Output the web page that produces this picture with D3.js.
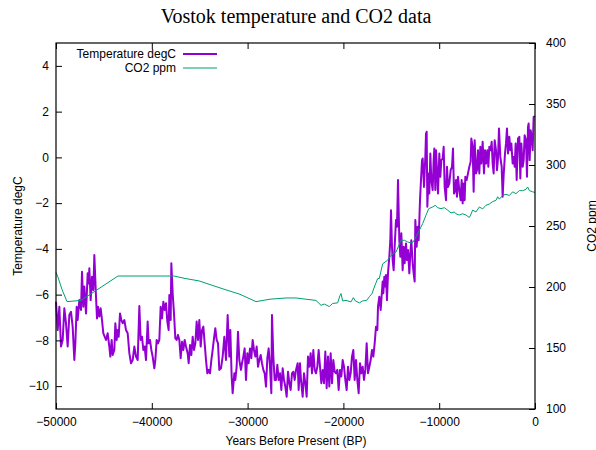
<!DOCTYPE html>
<html>
<head>
<meta charset="utf-8">
<script src="https://cdn.jsdelivr.net/npm/d3@7"></script>
<style>
  body { margin: 0; background: #fff; }
  svg { display: block; }
</style>
</head>
<body>
<svg id="chart"></svg>
<script>
const width = 596;
const height = 450;

// temperature record (years BP, degC)
const tempYears = [
  -50000, -49826, -49652, -49478, -49304, -49130, -48956, -48782, -48608, -48434,
  -48260, -48086, -47982, -47843, -47738, -47564, -47390, -47286, -47147, -47042,
  -46868, -46694, -46590, -46520, -46381, -46242, -46102, -45998, -45824, -45720,
  -45615, -45476, -45337, -45198, -45058, -44919, -44780, -44606, -44432, -44328,
  -44189, -44084, -43910, -43806, -43666, -43562, -43458, -43318, -43179, -43040,
  -42866, -42692, -42518, -42344, -42170, -41996, -41822, -41648, -41474, -41300,
  -41163, -41024, -40884, -40745, -40606, -40432, -40328, -40188, -40049, -39910,
  -39736, -39632, -39492, -39353, -39214, -39075, -38936, -38796, -38657, -38518,
  -38379, -38240, -38170, -38031, -37961, -37822, -37683, -37544, -37404, -37265,
  -37126, -36987, -36848, -36708, -36569, -36430, -36256, -36152, -36012, -35873,
  -35734, -35595, -35456, -35316, -35177, -35038, -34899, -34760, -34620, -34481,
  -34342, -34203, -34064, -33924, -33785, -33646, -33507, -33368, -33228, -33089,
  -32952, -32778, -32604, -32430, -32256, -32082, -31908, -31804, -31664, -31560,
  -31386, -31282, -31142, -31003, -30864, -30690, -30586, -30446, -30307, -30168,
  -30029, -29890, -29750, -29611, -29472, -29333, -29194, -29054, -28915, -28776,
  -28637, -28498, -28358, -28219, -28080, -27941, -27802, -27662, -27523, -27454,
  -27314, -27175, -27036, -26897, -26758, -26618, -26479, -26340, -26201, -26062,
  -25922, -25783, -25644, -25505, -25366, -25226, -25087, -24948, -24775, -24671,
  -24531, -24427, -24253, -24114, -23975, -23835, -23696, -23557, -23418, -23279,
  -23139, -23000, -22861, -22722, -22583, -22443, -22304, -22165, -22026, -21887,
  -21747, -21608, -21469, -21330, -21191, -21051, -20912, -20773, -20634, -20495,
  -20355, -20216, -20077, -19938, -19799, -19659, -19520, -19381, -19242, -19103,
  -18963, -18824, -18685, -18546, -18407, -18267, -18128, -17989, -17850, -17711,
  -17571, -17432, -17293, -17154, -17015, -16875, -16736, -16597, -16458, -16388,
  -16249, -16110, -15902, -15832, -15728, -15624, -15554, -15450, -15345, -15206,
  -15102, -15032, -14928, -14858, -14754, -14649, -14510, -14406, -14301, -14162,
  -14058, -13953, -13814, -13710, -13605, -13466, -13362, -13257, -13118, -13014,
  -12909, -12770, -12666, -12561, -12492, -12352, -12248, -12144, -12004, -11900,
  -11796, -11726, -11587, -11448, -11378, -11308, -11239, -11100, -11030, -10926,
  -10821, -10682, -10578, -10508, -10404, -10334, -10230, -10125, -9986, -9882,
  -9777, -9638, -9534, -9429, -9290, -9186, -9081, -8942, -8803, -8664,
  -8559, -8455, -8316, -8248, -8144, -8039, -7900, -7761, -7656, -7552,
  -7448, -7343, -7274, -7134, -6995, -6856, -6717, -6647, -6508, -6404,
  -6299, -6160, -6056, -5951, -5812, -5708, -5603, -5464, -5325, -5220,
  -5116, -4977, -4872, -4768, -4629, -4524, -4420, -4316, -4211, -4072,
  -3968, -3863, -3759, -3620, -3480, -3376, -3272, -3132, -3028, -2924,
  -2819, -2680, -2576, -2471, -2332, -2228, -2123, -2019, -1914, -1775,
  -1636, -1532, -1427, -1288, -1184, -1079, -940, -836, -731, -662,
  -557, -453, -348, -244, -140, 0
];
const tempValues = [
  -6.31, -7.55, -6.53, -8.27, -7.98, -6.60, -7.25, -8.27, -6.89, -6.75,
  -7.40, -8.86, -8.13, -6.53, -7.11, -6.24, -6.67, -5.00, -6.53, -5.65,
  -6.82, -5.07, -5.51, -4.85, -6.24, -5.22, -5.80, -4.27, -6.09, -7.04,
  -6.53, -6.96, -6.60, -7.11, -7.69, -7.84, -7.98, -7.69, -8.27, -8.71,
  -7.98, -8.64, -8.42, -7.25, -7.98, -7.55, -7.84, -6.82, -7.11, -7.25,
  -7.11, -7.55, -7.69, -8.56, -9.00, -8.86, -8.27, -8.71, -8.86, -6.50,
  -7.98, -7.84, -8.42, -8.27, -8.86, -7.18, -8.13, -7.98, -8.42, -8.71,
  -9.22, -8.86, -7.98, -8.13, -7.98, -6.53, -7.04, -6.31, -6.67, -6.38,
  -7.18, -7.55, -6.02, -7.11, -4.63, -5.94, -6.82, -7.91, -7.98, -7.76,
  -7.98, -8.78, -8.06, -8.42, -7.98, -8.27, -8.56, -9.00, -8.20, -8.64,
  -7.84, -8.42, -8.13, -7.18, -7.98, -7.11, -8.27, -7.55, -7.40, -8.13,
  -8.86, -9.44, -9.29, -9.44, -8.86, -8.42, -7.91, -7.47, -7.98, -8.13,
  -9.29, -9.22, -8.71, -7.84, -8.86, -6.89, -8.71, -7.55, -9.58, -10.31,
  -9.44, -9.73, -9.15, -7.62, -8.86, -9.29, -9.00, -8.71, -8.35, -9.73,
  -8.56, -9.00, -8.35, -8.78, -7.98, -8.42, -8.71, -8.27, -9.15, -8.86,
  -8.64, -9.00, -9.29, -9.44, -10.02, -8.78, -8.35, -9.15, -10.31, -6.89,
  -8.71, -9.73, -9.73, -9.07, -9.73, -9.44, -10.17, -9.22, -9.73, -10.02,
  -10.46, -9.37, -9.87, -10.17, -9.44, -9.37, -9.73, -9.29, -9.00, -10.17,
  -9.00, -9.73, -10.46, -9.44, -9.87, -10.46, -8.71, -9.15, -8.56, -9.44,
  -8.42, -9.29, -9.44, -9.15, -8.42, -9.15, -9.87, -9.29, -9.87, -8.49,
  -10.09, -8.71, -10.02, -8.56, -9.87, -8.86, -9.37, -9.44, -9.29, -10.17,
  -9.29, -9.58, -8.86, -9.15, -9.73, -10.17, -9.15, -9.73, -9.44, -8.71,
  -8.42, -9.73, -8.86, -9.73, -10.31, -9.00, -9.44, -9.15, -9.73, -9.29,
  -8.13, -9.44, -9.15, -8.86, -8.42, -8.71, -8.13, -7.40, -7.55, -6.53,
  -6.09, -6.67, -5.43, -5.94, -5.22, -5.65, -5.14, -6.24, -5.07, -4.34,
  -3.62, -2.31, -3.91, -4.49, -4.93, -3.91, -2.74, -3.03, -0.99, -3.62,
  -4.34, -3.32, -4.93, -3.91, -4.63, -3.76, -4.49, -4.05, -5.07, -4.20,
  -3.62, -4.63, -5.07, -5.43, -2.74, -3.91, -3.03, -3.62, -1.87, -0.99,
  -0.12, -0.05, -1.29, 0.02, 1.04, 1.12, -2.16, -0.70, -1.58, 0.17,
  -0.99, -1.43, -0.12, 0.39, -1.43, 0.31, -0.56, -1.58, 0.17, -0.85,
  -0.12, -0.05, 0.46, -1.29, -1.87, -0.41, -1.29, -1.14, -0.56, -0.41,
  0.39, -1.58, -1.43, -0.99, -1.72, -0.85, -1.43, -1.87, -0.99, -2.01,
  -1.14, -1.87, -0.85, -0.99, -0.70, -0.41, -0.19, 0.82, 0.46, -1.50,
  0.75, -0.70, -0.56, 0.31, -0.70, 0.46, -0.27, 0.68, -0.70, 0.31,
  -0.27, 0.31, -0.41, 0.46, 0.31, 0.68, -0.27, -0.70, 0.75, 0.31,
  -0.56, -0.05, 1.26, 0.02, -0.41, -1.72, -0.78, 0.17, 0.61, 1.26,
  0.17, 0.90, 0.31, 0.61, -0.27, 0.02, -0.41, 0.61, -0.99, 0.82,
  0.90, -0.92, 0.61, -0.41, -0.12, 0.97, 0.75, -0.85, 1.33, 1.48,
  -0.12, 1.19, 0.90, 0.31, 1.77, 1.80
];

// CO2 record (years BP, ppm)
const co2Years = [
  -50000, -49790, -49374, -48850, -47390, -43530, -37680, -36530, -35070, -32780,
  -30790, -29120, -27660, -25990, -24949, -22861, -22339, -21991, -21469, -21121,
  -20599, -20355, -20251, -20077, -19729, -19207, -18963, -18755, -18337, -17989,
  -17571, -17293, -17015, -16771, -16423, -16250, -15902, -15380, -15032, -14510,
  -13988, -13640, -13292, -12944, -12700, -12422, -12074, -11726, -11378, -11100,
  -10682, -10404, -10160, -9812, -9464, -9116, -8768, -8420, -8248, -7900,
  -7552, -7204, -6856, -6717, -6508, -6160, -5812, -5464, -5116, -4768,
  -4420, -4072, -3898, -3724, -3376, -3028, -2680, -2332, -1984, -1636,
  -1288, -940, -766, -592, -244, 0
];
const co2Values = [
  212, 208, 198, 188, 189, 209, 209, 207, 205, 199,
  194, 188, 190, 191, 191, 189, 185, 186, 184, 186.5,
  187, 193, 194.6, 188.6, 189, 187.8, 191.3, 188.6, 187, 188.6,
  189, 192, 194.6, 200, 206.9, 207, 219, 222, 226, 228.7,
  238.3, 238.3, 237, 236, 237, 241, 246.5, 252, 258.8, 264.2,
  265.6, 267, 265, 264.2, 265, 263, 260.7, 261.5, 260, 259,
  260, 259, 257, 259, 263, 261.5, 265.6, 264, 267, 268,
  270, 271, 274, 272, 275, 276, 275, 278, 276.5, 279,
  279, 280, 282, 279, 278, 277.5
];

const xTicks = [-50000, -40000, -30000, -20000, -10000, 0];
const yTicks = [-10, -8, -6, -4, -2, 0, 2, 4];
const y2Ticks = [100, 150, 200, 250, 300, 350, 400];

const svg = d3.select("#chart")
  .attr("width", width)
  .attr("height", height);

const plot = { left: 56, right: 535, top: 43, bottom: 409 };
const tickLen = 6;
const sans = "'Liberation Sans', Arial, sans-serif";

const x = d3.scaleLinear().domain([-50000, 0]).range([plot.left, plot.right]);
const yT = d3.scaleLinear().domain([-11, 5]).range([plot.bottom, plot.top]);
const yC = d3.scaleLinear().domain([100, 400]).range([plot.bottom, plot.top]);

const purple = "#9400d3";
const green = "#009e73";

// title
svg.append("text")
  .attr("x", 296)
  .attr("y", 23)
  .attr("text-anchor", "middle")
  .attr("font-family", "'Liberation Serif', 'Times New Roman', serif")
  .attr("font-size", "20px")
  .attr("fill", "#000")
  .text("Vostok temperature and CO2 data");

// data lines
const tempData = tempYears.map((yr, i) => [yr, tempValues[i]]);
const co2Data = co2Years.map((yr, i) => [yr, co2Values[i]]);

svg.append("path")
  .datum(tempData)
  .attr("fill", "none")
  .attr("stroke", purple)
  .attr("stroke-width", 2)
  .attr("stroke-linejoin", "round")
  .attr("d", d3.line().x(d => x(d[0])).y(d => yT(d[1])));

svg.append("path")
  .datum(co2Data)
  .attr("fill", "none")
  .attr("stroke", green)
  .attr("stroke-width", 1)
  .attr("d", d3.line().x(d => x(d[0])).y(d => yC(d[1])));

// axes (ticks pointing inward, gnuplot style)
function styleAxis(g) {
  g.select(".domain").remove();
  g.selectAll(".tick line").attr("stroke", "#000").attr("stroke-width", 1);
  g.selectAll(".tick text")
    .attr("font-family", sans)
    .attr("font-size", "12px")
    .attr("fill", "#000");
}

svg.append("g")
  .attr("transform", `translate(0,${plot.bottom})`)
  .call(d3.axisBottom(x).tickValues(xTicks).tickSize(-tickLen).tickPadding(8.5).tickFormat(d3.format("d")))
  .call(styleAxis);

svg.append("g")
  .attr("transform", `translate(0,${plot.top})`)
  .call(d3.axisTop(x).tickValues(xTicks).tickSize(-tickLen).tickFormat(""))
  .call(styleAxis);

svg.append("g")
  .attr("transform", `translate(${plot.left},0)`)
  .call(d3.axisLeft(yT).tickValues(yTicks).tickSize(-tickLen).tickPadding(7).tickFormat(d3.format("d")))
  .call(styleAxis);

svg.append("g")
  .attr("transform", `translate(${plot.right},0)`)
  .call(d3.axisRight(yC).tickValues(y2Ticks).tickSize(-tickLen).tickPadding(11).tickFormat(d3.format("d")))
  .call(styleAxis);

// border
svg.append("rect")
  .attr("x", plot.left)
  .attr("y", plot.top)
  .attr("width", plot.right - plot.left)
  .attr("height", plot.bottom - plot.top)
  .attr("fill", "none")
  .attr("stroke", "#000")
  .attr("stroke-width", 1.2);

// axis labels
svg.append("text")
  .attr("x", 296)
  .attr("y", 445)
  .attr("text-anchor", "middle")
  .attr("font-family", sans)
  .attr("font-size", "12px")
  .text("Years Before Present (BP)");

svg.append("text")
  .attr("transform", `translate(22,${(plot.top + plot.bottom) / 2}) rotate(-90)`)
  .attr("text-anchor", "middle")
  .attr("font-family", sans)
  .attr("font-size", "12px")
  .text("Temperature degC");

svg.append("text")
  .attr("transform", `translate(596,${(plot.top + plot.bottom) / 2}) rotate(-90)`)
  .attr("text-anchor", "middle")
  .attr("font-family", sans)
  .attr("font-size", "12px")
  .text("CO2 ppm");

// legend
const legendItems = [
  { label: "Temperature degC", color: purple, w: 2 },
  { label: "CO2 ppm", color: green, w: 1 }
];
const legend = svg.append("g");
legendItems.forEach((d, i) => {
  const ly = 54 + i * 14;
  legend.append("text")
    .attr("x", 176)
    .attr("y", ly)
    .attr("dy", "0.35em")
    .attr("text-anchor", "end")
    .attr("font-family", sans)
    .attr("font-size", "12px")
    .text(d.label);
  legend.append("line")
    .attr("x1", 183).attr("x2", 217)
    .attr("y1", ly).attr("y2", ly)
    .attr("stroke", d.color)
    .attr("stroke-width", d.w);
});
</script>
</body>
</html>
